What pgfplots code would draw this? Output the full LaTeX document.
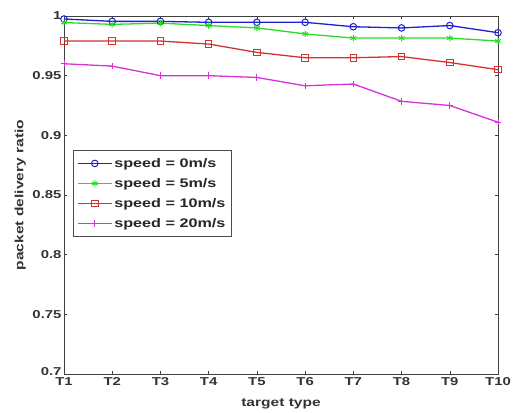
\documentclass[border=0pt]{standalone}
\usepackage{fontspec}
\setmainfont{Liberation Sans}[FakeStretch=1.3]
\usepackage{pgfplots}
\pgfplotsset{compat=1.18}
\definecolor{cblue}{RGB}{30,30,210}
\definecolor{cgreen}{RGB}{40,220,40}
\definecolor{cred}{RGB}{210,50,50}
\definecolor{cmag}{RGB}{215,50,215}
\begin{document}
\begin{tikzpicture}
\begin{axis}[
  scale only axis,
  width=434bp, height=358bp,
  xmin=1, xmax=10, ymin=0.7, ymax=1,
  xtick={1,...,10},
  xticklabels={T1,T2,T3,T4,T5,T6,T7,T8,T9,T10},
  ytick={0.7,0.75,0.8,0.85,0.9,0.95,1},
  yticklabels={\raisebox{5bp}{0.7},0.75,0.8,0.85,0.9,0.95,1},
  tick align=inside,
  major tick length=3bp,
  axis line style={black!75, line width=0.6pt},
  every tick/.style={black!75},
  tick label style={font=\fontsize{11.5}{13}\selectfont\bfseries, black!80},
  xticklabel style={yshift=0bp},
  yticklabel style={xshift=1bp},
  label style={font=\fontsize{12}{14}\selectfont\bfseries, black!80},
  xlabel={target type},
  ylabel={packet delivery ratio},
  xlabel style={at={(axis description cs:0.5,-0.083)}, anchor=center},
  ylabel style={at={(axis description cs:-0.101,0.5)}, anchor=center},
  legend style={at={(axis description cs:0.0207,0.626)}, anchor=north west,
    font=\fontsize{12.5}{14}\selectfont\bfseries, draw=black!70, line width=0.6pt,
    row sep=5.5bp, inner xsep=4bp, inner ysep=6bp, text=black!85},
  legend cell align=left,
  legend image post style={line width=1pt},
  legend image code/.code={\draw[mark repeat=2,mark phase=2] plot coordinates {(0cm,0cm) (0.6cm,0cm) (1.2cm,0cm)};},
  every axis plot/.append style={line width=1.3pt, mark size=3.3pt},
]
\addplot[cblue, mark=o, mark options={line width=1pt}] coordinates {
(1,0.9975) (2,0.9955) (3,0.9955) (4,0.9947) (5,0.9947) (6,0.9947) (7,0.991) (8,0.990) (9,0.992) (10,0.986)};
\addlegendentry{speed = 0m/s}
\addplot[cgreen, mark=asterisk, mark options={line width=1pt}] coordinates {
(1,0.9945) (2,0.993) (3,0.994) (4,0.992) (5,0.990) (6,0.985) (7,0.9815) (8,0.9815) (9,0.9815) (10,0.979)};
\addlegendentry{speed = 5m/s}
\addplot[cred, mark=square, mark options={line width=1pt}] coordinates {
(1,0.979) (2,0.979) (3,0.979) (4,0.9765) (5,0.9695) (6,0.965) (7,0.965) (8,0.966) (9,0.961) (10,0.955)};
\addlegendentry{speed = 10m/s}
\addplot[cmag, mark=+, mark options={line width=1pt}] coordinates {
(1,0.960) (2,0.958) (3,0.950) (4,0.950) (5,0.9485) (6,0.9415) (7,0.943) (8,0.9285) (9,0.925) (10,0.911)};
\addlegendentry{speed = 20m/s}
\end{axis}
\pgfresetboundingbox
\path ([shift={(-64bp,-38bp)}]current axis.south west) rectangle ([shift={(17bp,16bp)}]current axis.north east);
\end{tikzpicture}
\end{document}
